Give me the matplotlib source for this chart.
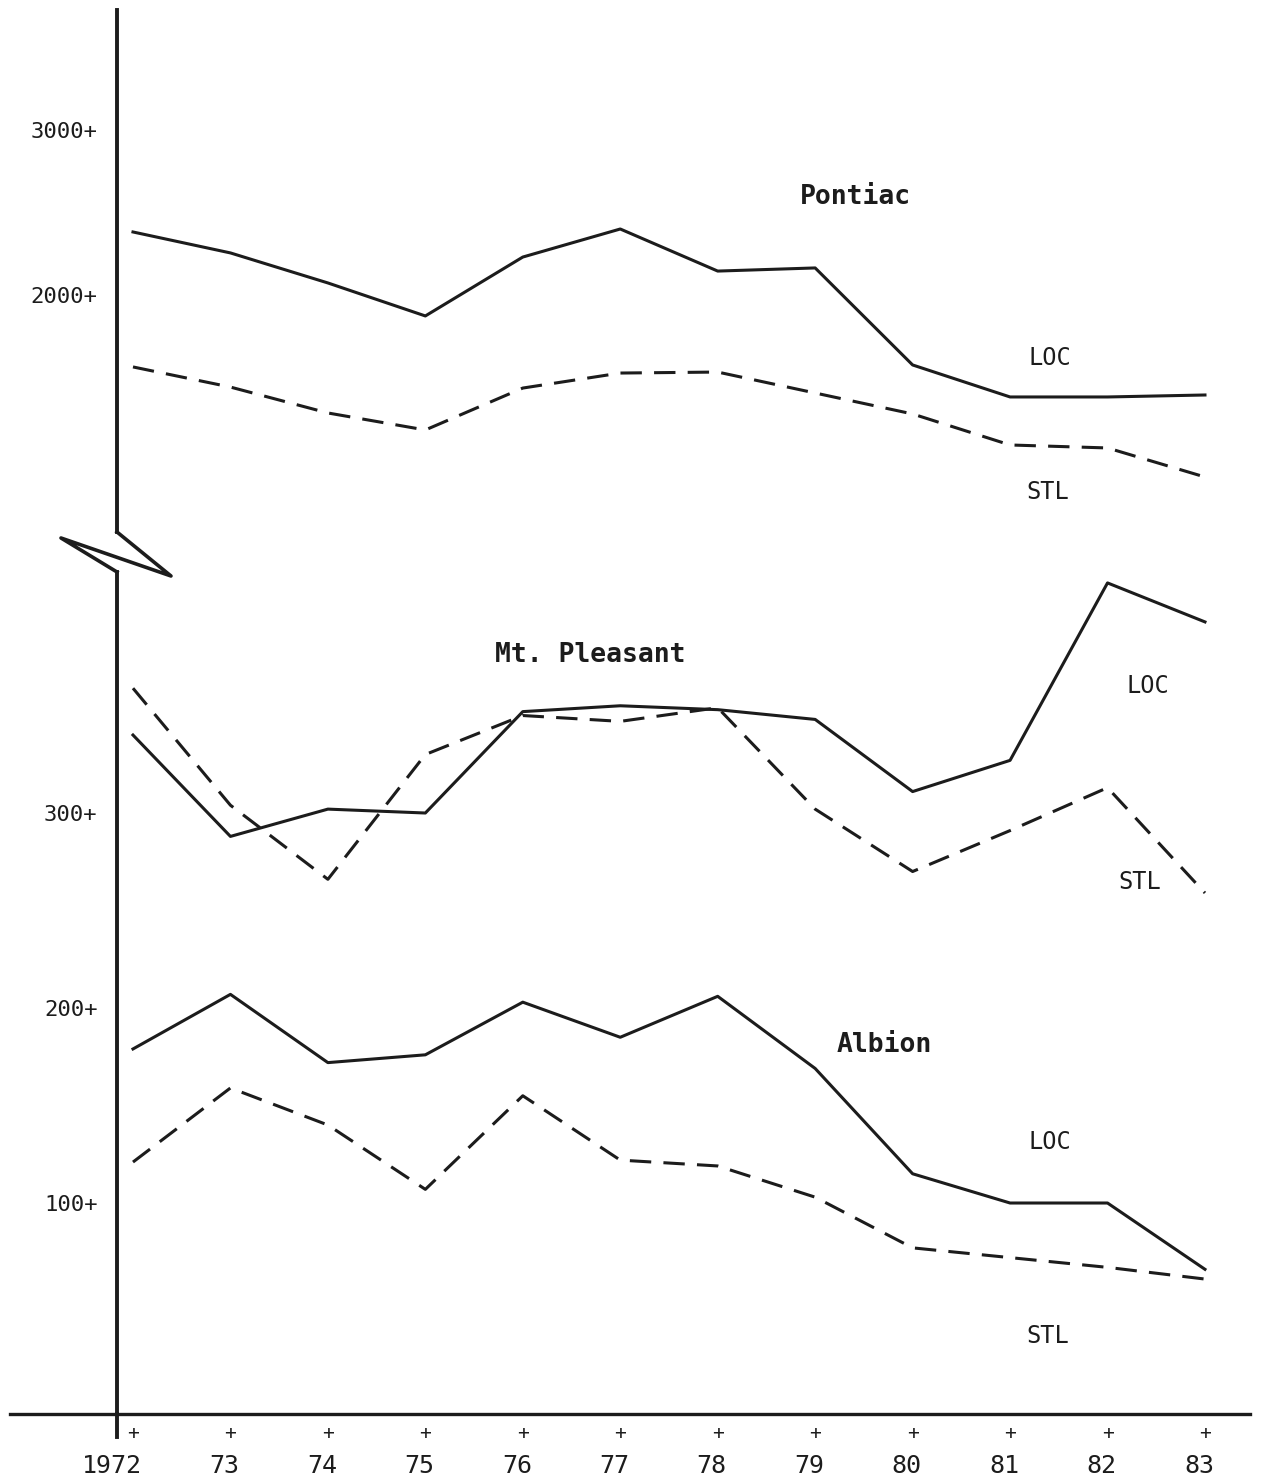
import matplotlib
matplotlib.use("Agg")
import matplotlib.pyplot as plt
from matplotlib.lines import Line2D
from matplotlib.transforms import ScaledTranslation
import numpy as np

# data
years = np.arange(1972, 1984)
year_labels = ["1972", "73", "74", "75", "76", "77", "78", "79", "80", "81", "82", "83"]

pontiac_loc = [2382, 2255, 2073, 1873, 2230, 2400, 2145, 2164, 1576, 1382, 1382, 1394]
pontiac_stl = [1564, 1442, 1285, 1182, 1436, 1527, 1533, 1406, 1279, 1091, 1073, 897]

mtp_loc = [340, 288, 302, 300, 352, 355, 353, 348, 311, 327, 418, 398]
mtp_stl = [364, 304, 266, 330, 350, 347, 354, 302, 270, 291, 313, 259]

albion_loc = [179, 207, 172, 176, 203, 185, 206, 169, 115, 100, 100, 66]
albion_stl = [121, 159, 140, 107, 155, 122, 119, 103, 77, 72, 67, 61]

upper_ticks = [2000, 3000]
lower_ticks = [100, 200, 300]

plt.rcParams['font.family'] = ['DejaVu Sans Mono']

W, H = 1265, 1481
fig = plt.figure(figsize=(W / 100, H / 100), dpi=100)
fig.patch.set_facecolor('white')

ink = '#1c1c1c'
dash = (0, (7, 4))
lw = 2.2

def box(x0, y0, x1, y1):
    # pixel box (top-left origin) -> figure fraction rect
    return [x0 / W, 1 - y1 / H, (x1 - x0) / W, (y1 - y0) / H]

xlim = (1971.836, 1983.462)

ax_up = fig.add_axes(box(117, 10, 1250, 532))
ax_lo = fig.add_axes(box(117, 572, 1250, 1414))

ax_up.set_ylim(563.6, 3727.3)
ax_lo.set_ylim(-8.2, 423.6)

for ax in (ax_up, ax_lo):
    ax.set_xlim(*xlim)
    ax.set_facecolor('none')
    for s in ('top', 'right', 'bottom'):
        ax.spines[s].set_visible(False)
    ax.spines['left'].set_linewidth(2.8)
    ax.spines['left'].set_color(ink)
    ax.tick_params(axis='y', length=0, pad=14, labelsize=16, labelcolor=ink)
    ax.set_xticks([])

ax_up.set_yticks(upper_ticks, [f"{t}+" for t in upper_ticks])
ax_lo.set_yticks(lower_ticks, [f"{t}+" for t in lower_ticks])

# the series
ax_up.plot(years, pontiac_loc, color=ink, lw=lw, clip_on=False)
ax_up.plot(years, pontiac_stl, color=ink, lw=lw, ls=dash, clip_on=False)
ax_lo.plot(years, mtp_loc, color=ink, lw=lw, clip_on=False)
ax_lo.plot(years, mtp_stl, color=ink, lw=lw, ls=dash, clip_on=False)
ax_lo.plot(years, albion_loc, color=ink, lw=lw, clip_on=False)
ax_lo.plot(years, albion_stl, color=ink, lw=lw, ls=dash, clip_on=False)

# x axis line runs past the y axis on the left; y axis pokes below it
ax_lo.axhline(ax_lo.get_ylim()[0], xmin=-107 / 1133, xmax=1, color=ink, lw=2.4, clip_on=False)
ax_lo.axvline(xlim[0], ymin=-23 / 842, ymax=0, color=ink, lw=2.8, clip_on=False)

# x ticks drawn as "+" with the year under it
tb = ax_lo.get_xaxis_transform()
for yr, lab in zip(years, year_labels):
    ax_lo.text(yr, 0, "+", transform=tb + ScaledTranslation(0, -0.19, fig.dpi_scale_trans),
               ha='center', va='center', fontsize=14, color=ink)
    ax_lo.text(yr, 0, lab, transform=tb + ScaledTranslation(0.09, -0.52, fig.dpi_scale_trans),
               ha='right', va='center', fontsize=18, color=ink)

# axis break
bx = np.array([117, 171, 61, 117]) / W
by = 1 - np.array([532, 576, 538, 572]) / H
fig.add_artist(Line2D(bx, by, transform=fig.transFigure, color=ink, lw=2.6))

# series labels
name_kw = dict(ha='center', va='center', fontsize=19, fontweight='bold', color=ink)
tag_kw = dict(ha='center', va='center', fontsize=17, color=ink)

ax_up.text(1979.41, 2594, "Pontiac", **name_kw)
ax_up.text(1981.41, 1618, "LOC", **tag_kw)
ax_up.text(1981.39, 806, "STL", **tag_kw)

ax_lo.text(1976.69, 381, "Mt. Pleasant", **name_kw)
ax_lo.text(1982.41, 365, "LOC", **tag_kw)
ax_lo.text(1982.33, 264.6, "STL", **tag_kw)

ax_lo.text(1979.71, 181, "Albion", **name_kw)
ax_lo.text(1981.41, 131.3, "LOC", **tag_kw)
ax_lo.text(1981.39, 31.8, "STL", **tag_kw)

fig.savefig("out.png", dpi=100)
